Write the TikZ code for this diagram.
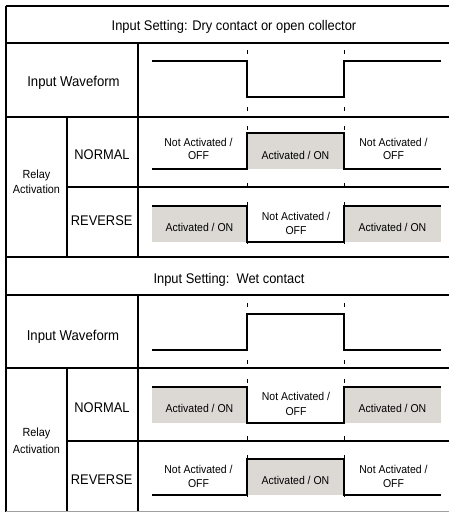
\documentclass[tikz,border=0pt]{standalone}
\usepackage{fontspec}
\setmainfont[FakeStretch=0.92]{Liberation Sans}
\definecolor{actgrey}{RGB}{220,217,213}
\definecolor{edgegrey}{RGB}{160,160,160}
\begin{document}
\begin{tikzpicture}[x=1pt,y=-1pt,
  grid/.style={line width=1.1pt},
  wave/.style={line width=1.2pt, line join=miter},
  guide/.style={line width=0.8pt, dash pattern=on 4pt off 15pt},
  actbox/.style={fill=actgrey, draw=none},
  txt/.style={anchor=base, inner sep=0pt},
  titletxt/.style={txt, font=\fontsize{14}{16}\selectfont},
  bigtxt/.style={txt, font=\fontsize{14.3}{16}\selectfont},
  modetxt/.style={txt, font=\fontsize{14}{16}\selectfont},
  smalltxt/.style={txt, font=\fontsize{11.4}{13}\selectfont},
  relaytxt/.style={txt, font=\fontsize{11.8}{13}\selectfont}]
\useasboundingbox (0,0) rectangle (449,513);

% grey "activated" areas
\fill[actbox] (247,133) rectangle (344,169);
\fill[actbox] (152,206) rectangle (247,242);
\fill[actbox] (344,206) rectangle (441,242);
\fill[actbox] (152,387) rectangle (247,423);
\fill[actbox] (344,387) rectangle (441,423);
\fill[actbox] (247,459) rectangle (344,495);

% table grid
\draw[grid] (6,6) -- (449,6);
\draw[grid] (6,6) -- (6,511.5);
\draw[grid] (6,43) -- (449,43);
\draw[grid] (6,117) -- (449,117);
\draw[grid] (138,43) -- (138,257);
\draw[grid] (67,117) -- (67,257);
\draw[grid] (67,187) -- (449,187);
\draw[grid] (6,257) -- (449,257);
\draw[grid] (6,295) -- (449,295);
\draw[grid] (6,368) -- (449,368);
\draw[grid] (138,295) -- (138,511.5);
\draw[grid] (67,368) -- (67,511.5);
\draw[grid] (67,441) -- (449,441);
\draw[line width=1pt, edgegrey] (6,511.5) -- (449,511.5);

% dashed guide lines
\draw[guide] (247,50) -- (247,257);
\draw[guide] (344,50) -- (344,257);
\draw[guide] (247,303) -- (247,511);
\draw[guide] (344,303) -- (344,511);

% waveforms
\draw[wave] (152,61) -- (247,61) -- (247,97) -- (344,97) -- (344,61) -- (441,61);
\draw[wave] (152,169) -- (247,169) -- (247,133) -- (344,133) -- (344,169) -- (441,169);
\draw[wave] (152,206) -- (247,206) -- (247,242) -- (344,242) -- (344,206) -- (441,206);
\draw[wave] (152,350) -- (247,350) -- (247,314) -- (344,314) -- (344,350) -- (441,350);
\draw[wave] (152,387) -- (247,387) -- (247,423) -- (344,423) -- (344,387) -- (441,387);
\draw[wave] (152,495) -- (247,495) -- (247,459) -- (344,459) -- (344,495) -- (441,495);

% section 1 texts
\node[titletxt] (t1) at (234,30.7) {Input Setting: Dry contact or open collector};
\node[bigtxt] (iw1) at (73.5,86.3) {Input Waveform};
\node[relaytxt] (r1a) at (36.5,178.3) {Relay};
\node[relaytxt] (r1b) at (36.5,193) {Activation};
\node[modetxt] (n1) at (102,160) {NORMAL};
\node[modetxt] (rv1) at (101.7,225) {REVERSE};
\node[smalltxt] (n1la) at (198.5,146.7) {Not Activated /};
\node[smalltxt] (n1lb) at (198.5,160) {OFF};
\node[smalltxt] (n1m) at (295.5,159.3) {Activated / ON};
\node[smalltxt] (n1ra) at (393.5,146.7) {Not Activated /};
\node[smalltxt] (n1rb) at (393.5,160) {OFF};
\node[smalltxt] (rv1l) at (199.5,231.7) {Activated / ON};
\node[smalltxt] (rv1ma) at (296,220) {Not Activated /};
\node[smalltxt] (rv1mb) at (296,234) {OFF};
\node[smalltxt] (rv1r) at (392.5,231.7) {Activated / ON};

% section 2 texts
\node[titletxt] (t2) at (229,283.3) {Input Setting:\ \ Wet contact};
\node[bigtxt] (iw2) at (73,340) {Input Waveform};
\node[relaytxt] (r2a) at (36.5,436.7) {Relay};
\node[relaytxt] (r2b) at (36.5,453) {Activation};
\node[modetxt] (n2) at (102,412.7) {NORMAL};
\node[modetxt] (rv2) at (101.7,484) {REVERSE};
\node[smalltxt] (n2l) at (199.5,412.3) {Activated / ON};
\node[smalltxt] (n2ma) at (296,400) {Not Activated /};
\node[smalltxt] (n2mb) at (296,415) {OFF};
\node[smalltxt] (n2r) at (392.5,412.3) {Activated / ON};
\node[smalltxt] (rv2la) at (198.5,473.3) {Not Activated /};
\node[smalltxt] (rv2lb) at (198.5,487.3) {OFF};
\node[smalltxt] (rv2m) at (295.5,484) {Activated / ON};
\node[smalltxt] (rv2ra) at (393.5,473.3) {Not Activated /};
\node[smalltxt] (rv2rb) at (393.5,487.3) {OFF};
\end{tikzpicture}
\end{document}
